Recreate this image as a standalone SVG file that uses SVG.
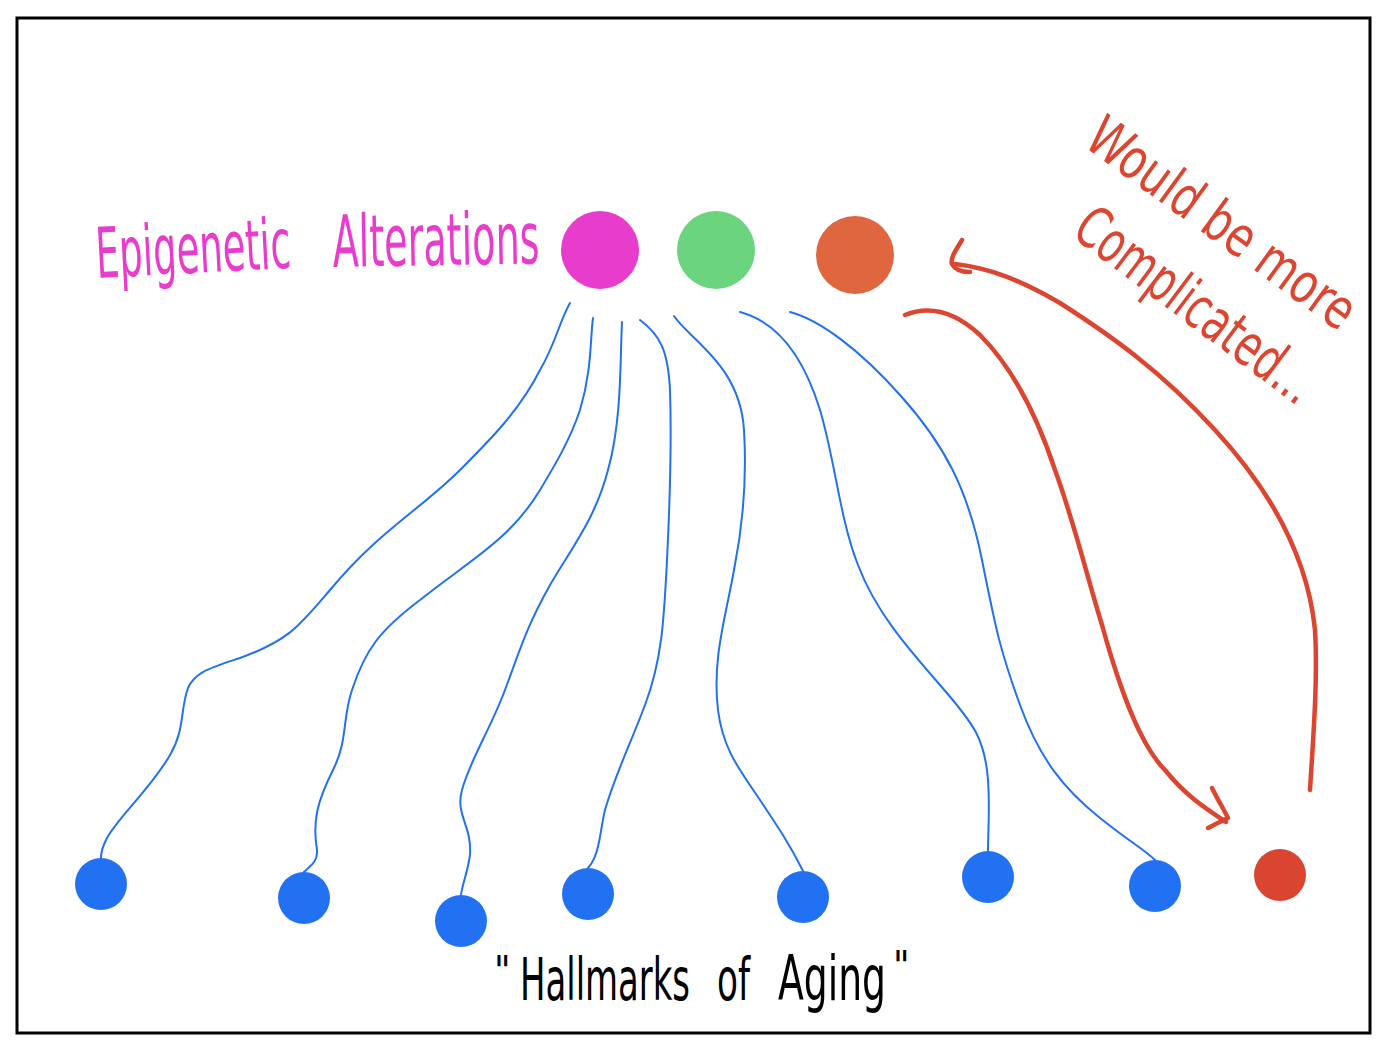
<svg xmlns="http://www.w3.org/2000/svg" width="1386" height="1048" viewBox="0 0 1386 1048">
<style>
.hand{font-family:"Liberation Sans Narrow","DejaVu Sans Condensed","Liberation Sans",sans-serif;}
.blue{fill:none;stroke:#2271f3;stroke-width:2;stroke-linecap:round;stroke-linejoin:round;}
.red{fill:none;stroke:#dc4530;stroke-width:4.5;stroke-linecap:round;stroke-linejoin:round;}
.bn{fill:#2271f3;}
</style>
<rect x="0" y="0" width="1386" height="1048" fill="#ffffff"/>
<rect x="17" y="18" width="1353" height="1015" fill="none" stroke="#000" stroke-width="3"/>
<g id="connectors">
<path class="blue" d="M570,303 C560,320 555,345 540,370 C520,410 490,440 460,470 C420,510 380,530 330,590 C300,625 290,640 240,658 C210,668 195,672 188,688 C180,710 185,730 170,755 C150,790 115,820 106,840 C101,850 101,855 101,858"/>
<path class="blue" d="M593,318 C590,340 592,370 580,410 C570,440 555,465 540,490 C510,540 470,560 420,600 C380,630 365,650 352,690 C342,720 348,740 333,770 C318,800 312,820 317,850 C318,862 310,866 304,872"/>
<path class="blue" d="M622,322 C620,360 622,420 608,470 C595,520 570,550 550,585 C525,630 520,650 505,690 C490,730 470,760 462,790 C455,815 472,825 470,855 C467,875 462,885 461,895"/>
<path class="blue" d="M640,320 C660,335 668,350 670,390 C672,450 670,500 667,560 C664,620 662,660 645,705 C630,745 615,775 605,810 C600,830 600,855 588,868"/>
<path class="blue" d="M674,316 C690,340 740,365 744,430 C747,480 742,530 734,570 C725,620 712,660 718,710 C723,750 740,770 760,800 C780,830 790,845 803,871"/>
<path class="blue" d="M740,312 C770,320 800,345 820,410 C835,460 840,520 858,565 C875,610 905,645 940,685 C975,725 985,740 988,780 C990,810 988,830 988,851"/>
<path class="blue" d="M790,312 C820,320 860,350 900,395 C945,445 968,490 982,560 C996,630 1000,650 1020,705 C1040,760 1065,790 1100,818 C1130,842 1145,850 1155,860"/>
<path class="red" d="M905,315 C930,305 955,312 980,335 C1010,365 1035,410 1055,470 C1075,525 1088,580 1102,625 C1120,690 1140,745 1165,770 C1185,795 1205,808 1226,822"/>
<path class="red" d="M1212,788 C1218,800 1224,810 1228,818 C1220,822 1215,824 1208,828"/>
<path class="red" d="M1310,790 C1313,740 1318,680 1315,630 C1308,560 1275,495 1215,430 C1160,370 1110,335 1060,303 C1020,280 990,268 955,264"/>
<path class="red" d="M962,240 C956,250 950,258 952,264 C955,270 962,272 970,272"/>
</g>
<g id="node-epigenetic">
<circle cx="600" cy="250" r="39" fill="#e83ccc"/>
</g>
<g id="node-green">
<circle cx="716" cy="250" r="39" fill="#6bd47f"/>
</g>
<g id="node-orange">
<circle cx="855" cy="255" r="39" fill="#e06640"/>
</g>
<g id="node-b1"><circle class="bn" cx="101" cy="884" r="26"/></g>
<g id="node-b2"><circle class="bn" cx="304" cy="898" r="26"/></g>
<g id="node-b3"><circle class="bn" cx="461" cy="921" r="26"/></g>
<g id="node-b4"><circle class="bn" cx="588" cy="894" r="26"/></g>
<g id="node-b5"><circle class="bn" cx="803" cy="897" r="26"/></g>
<g id="node-b6"><circle class="bn" cx="988" cy="877" r="26"/></g>
<g id="node-b7"><circle class="bn" cx="1155" cy="886" r="26"/></g>
<g id="node-red"><circle cx="1280" cy="875" r="26" fill="#d94530"/></g>
<g id="label-epigenetic" fill="#e83ccc">
<text class="hand" x="97" y="278" font-size="70" textLength="195" lengthAdjust="spacingAndGlyphs" transform="rotate(-3 97 278)">Epigenetic</text>
<text class="hand" x="333" y="267" font-size="72" textLength="207" lengthAdjust="spacingAndGlyphs" transform="rotate(-1 333 267)">Alterations</text>
</g>
<g id="label-complicated" fill="#dc4530">
<text class="hand" x="1082" y="145" font-size="56" transform="rotate(36 1082 145)" textLength="318" lengthAdjust="spacingAndGlyphs">Would be more</text>
<text class="hand" x="1070" y="235" font-size="58" transform="rotate(37 1070 235)" textLength="285" lengthAdjust="spacingAndGlyphs">Complicated...</text>
</g>
<g id="label-hallmarks" fill="#000">
<text class="hand" x="494" y="985" font-size="40">"</text>
<text class="hand" x="520" y="1000" font-size="58" textLength="170" lengthAdjust="spacingAndGlyphs">Hallmarks</text>
<text class="hand" x="717" y="1000" font-size="58" textLength="33" lengthAdjust="spacingAndGlyphs">of</text>
<text class="hand" x="778" y="1000" font-size="62" textLength="108" lengthAdjust="spacingAndGlyphs">Aging</text>
<text class="hand" x="893" y="980" font-size="40">"</text>
</g>
</svg>
